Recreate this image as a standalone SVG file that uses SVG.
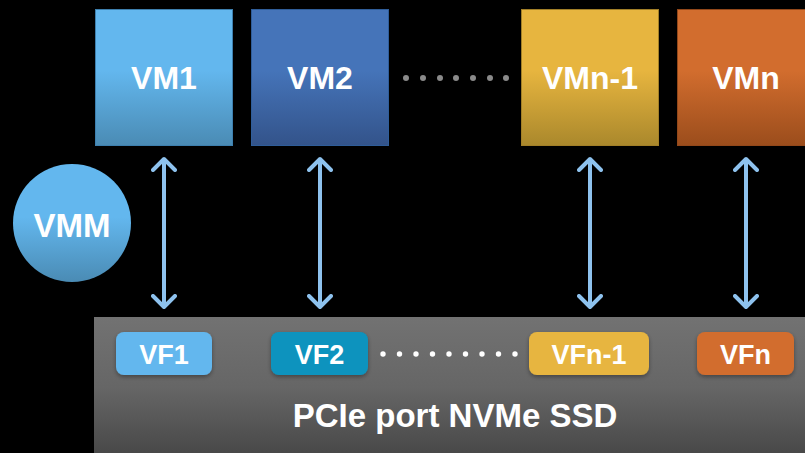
<svg xmlns="http://www.w3.org/2000/svg" width="805" height="453" viewBox="0 0 805 453">
<defs>
<linearGradient id="g1" x1="0" y1="0" x2="0" y2="1"><stop offset="0.45" stop-color="#63b7ee"/><stop offset="1" stop-color="#4a8bb4"/></linearGradient>
<linearGradient id="g2" x1="0" y1="0" x2="0" y2="1"><stop offset="0.45" stop-color="#4574b9"/><stop offset="1" stop-color="#33538a"/></linearGradient>
<linearGradient id="g3" x1="0" y1="0" x2="0" y2="1"><stop offset="0.45" stop-color="#e7b53f"/><stop offset="1" stop-color="#aa882c"/></linearGradient>
<linearGradient id="g4" x1="0" y1="0" x2="0" y2="1"><stop offset="0.45" stop-color="#d26d2e"/><stop offset="1" stop-color="#9b4d1c"/></linearGradient>
<linearGradient id="gp" x1="0" y1="0" x2="0" y2="1"><stop offset="0" stop-color="#727272"/><stop offset="0.5" stop-color="#666"/><stop offset="1" stop-color="#474747"/></linearGradient>
<filter id="sh" x="-20%" y="-20%" width="140%" height="150%"><feDropShadow dx="0" dy="2" stdDeviation="2" flood-color="#000" flood-opacity="0.35"/></filter>
<marker id="ah" viewBox="0 0 16 26" refX="13" refY="13" markerWidth="16" markerHeight="26" markerUnits="userSpaceOnUse" orient="auto-start-reverse">
<path d="M2,2 L13,13 L2,24" fill="none" stroke="#8ec2ee" stroke-width="4" stroke-linecap="round" stroke-linejoin="round"/>
</marker>
</defs>
<style>
.vt{font-family:"Liberation Sans",Arial,sans-serif;font-weight:bold;fill:#fff;text-anchor:middle}
.vm{font-size:32px}
.vf{font-size:27px}
.conn{stroke:#8ec2ee;stroke-width:4;fill:none}
</style>
<rect width="805" height="453" fill="#000"/>
<g id="ssd">
<rect x="94" y="317" width="720" height="140" fill="url(#gp)"/>
<text class="vt" x="455" y="427" font-size="33">PCIe port NVMe SSD</text>
</g>
<g id="vm1"><rect x="95.5" y="9.5" width="137" height="136" fill="url(#g1)" stroke="#3d7fae"/><text class="vt vm" x="164" y="89">VM1</text></g>
<g id="vm2"><rect x="251.5" y="9.5" width="137" height="136" fill="url(#g2)" stroke="#2f5d99"/><text class="vt vm" x="320" y="89">VM2</text></g>
<g id="vmn1"><rect x="521.5" y="9.5" width="137" height="136" fill="url(#g3)" stroke="#a27f27"/><text class="vt vm" x="590" y="89">VMn-1</text></g>
<g id="vmn"><rect x="677.5" y="9.5" width="137" height="136" fill="url(#g4)" stroke="#93481a"/><text class="vt vm" x="746" y="89">VMn</text></g>
<g id="dots-top" fill="#8a8a8a">
<circle cx="406" cy="78" r="3"/><circle cx="423" cy="78" r="3"/><circle cx="440" cy="78" r="3"/><circle cx="456" cy="78" r="3"/><circle cx="473" cy="78" r="3"/><circle cx="490" cy="78" r="3"/><circle cx="506" cy="78" r="3"/>
</g>
<g id="vmm"><circle cx="72" cy="223" r="59" fill="url(#g1)"/><text class="vt" x="72" y="237" font-size="33">VMM</text></g>
<g id="vf1"><rect x="116" y="332" width="96" height="43" rx="8" fill="#63b7ee" filter="url(#sh)"/><text class="vt vf" x="164" y="364">VF1</text></g>
<g id="vf2"><rect x="271" y="332" width="97" height="43" rx="8" fill="#0b93be" filter="url(#sh)"/><text class="vt vf" x="319.5" y="364">VF2</text></g>
<g id="vfn1"><rect x="529" y="332" width="120" height="43" rx="8" fill="#e7b53f" filter="url(#sh)"/><text class="vt vf" x="589" y="364">VFn-1</text></g>
<g id="vfn"><rect x="697" y="332" width="97" height="43" rx="8" fill="#d26d2e" filter="url(#sh)"/><text class="vt vf" x="745.5" y="364">VFn</text></g>
<g id="dots-vf" fill="#fff">
<circle cx="383" cy="354" r="2.7"/><circle cx="399.5" cy="354" r="2.7"/><circle cx="416" cy="354" r="2.7"/><circle cx="432.5" cy="354" r="2.7"/><circle cx="449" cy="354" r="2.7"/><circle cx="465.5" cy="354" r="2.7"/><circle cx="482" cy="354" r="2.7"/><circle cx="498.5" cy="354" r="2.7"/><circle cx="515" cy="354" r="2.7"/>
</g>
<g id="connectors">
<line class="conn" x1="164" y1="159" x2="164" y2="307" marker-start="url(#ah)" marker-end="url(#ah)"/>
<line class="conn" x1="320" y1="159" x2="320" y2="307" marker-start="url(#ah)" marker-end="url(#ah)"/>
<line class="conn" x1="590" y1="159" x2="590" y2="307" marker-start="url(#ah)" marker-end="url(#ah)"/>
<line class="conn" x1="746" y1="159" x2="746" y2="307" marker-start="url(#ah)" marker-end="url(#ah)"/>
</g>
</svg>
